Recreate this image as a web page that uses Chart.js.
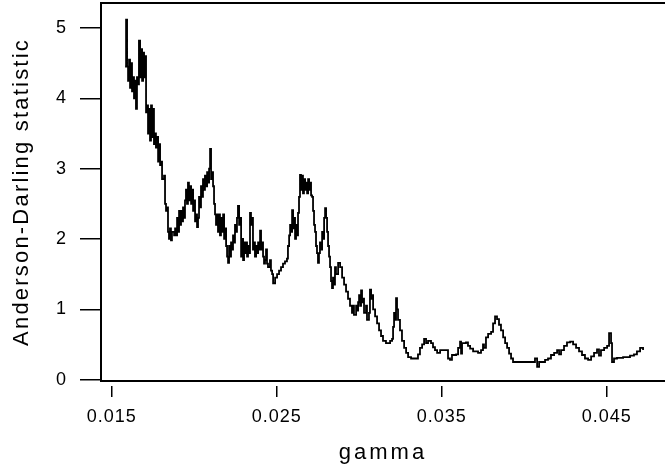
<!DOCTYPE html>
<html>
<head>
<meta charset="utf-8">
<script src="https://cdn.jsdelivr.net/npm/chart.js@4/dist/chart.umd.min.js"></script>
<style>
  html, body { margin: 0; padding: 0; background: #fff; }
  #wrap { width: 665px; height: 468px; }
</style>
</head>
<body>
<div id="wrap"><canvas id="myChart" width="665" height="468"></canvas></div>
<script>
// gamma values (x)
const gammas = [
  0.01581, 0.01587, 0.01593, 0.01599, 0.01605, 0.01611, 0.01617, 0.01623, 0.01629, 0.01635,
  0.01641, 0.01647, 0.01653, 0.01659, 0.01665, 0.01672, 0.01678, 0.01684, 0.01690, 0.01696,
  0.01702, 0.01708, 0.01714, 0.01720, 0.01726, 0.01732, 0.01738, 0.01744, 0.01750, 0.01756,
  0.01762, 0.01768, 0.01775, 0.01781, 0.01787, 0.01793, 0.01799, 0.01805, 0.01817, 0.01823,
  0.01829, 0.01835, 0.01841, 0.01847, 0.01853, 0.01859, 0.01865, 0.01878, 0.01884, 0.01890,
  0.01896, 0.01902, 0.01908, 0.01914, 0.01920, 0.01926, 0.01932, 0.01938, 0.01944, 0.01950,
  0.01956, 0.01962, 0.01968, 0.01975, 0.01981, 0.01987, 0.01993, 0.01999, 0.02005, 0.02011,
  0.02017, 0.02023, 0.02029, 0.02035, 0.02041, 0.02047, 0.02053, 0.02059, 0.02065, 0.02072,
  0.02078, 0.02084, 0.02090, 0.02096, 0.02102, 0.02108, 0.02114, 0.02120, 0.02126, 0.02132,
  0.02138, 0.02144, 0.02150, 0.02156, 0.02162, 0.02168, 0.02175, 0.02181, 0.02187, 0.02193,
  0.02199, 0.02205, 0.02211, 0.02217, 0.02223, 0.02229, 0.02235, 0.02241, 0.02247, 0.02253,
  0.02259, 0.02265, 0.02272, 0.02278, 0.02284, 0.02290, 0.02296, 0.02302, 0.02308, 0.02314,
  0.02320, 0.02326, 0.02332, 0.02338, 0.02344, 0.02350, 0.02356, 0.02362, 0.02368, 0.02375,
  0.02381, 0.02387, 0.02393, 0.02399, 0.02405, 0.02411, 0.02417, 0.02423, 0.02429, 0.02435,
  0.02441, 0.02447, 0.02459, 0.02465, 0.02472, 0.02478, 0.02490, 0.02502, 0.02514, 0.02526,
  0.02538, 0.02550, 0.02562, 0.02568, 0.02575, 0.02581, 0.02587, 0.02593, 0.02599, 0.02605,
  0.02611, 0.02617, 0.02623, 0.02629, 0.02635, 0.02641, 0.02647, 0.02653, 0.02659, 0.02665,
  0.02672, 0.02678, 0.02684, 0.02690, 0.02696, 0.02702, 0.02708, 0.02714, 0.02720, 0.02726,
  0.02732, 0.02738, 0.02744, 0.02750, 0.02756, 0.02762, 0.02768, 0.02775, 0.02781, 0.02787,
  0.02793, 0.02799, 0.02805, 0.02811, 0.02817, 0.02823, 0.02829, 0.02835, 0.02841, 0.02847,
  0.02853, 0.02859, 0.02872, 0.02884, 0.02896, 0.02908, 0.02920, 0.02932, 0.02944, 0.02956,
  0.02962, 0.02968, 0.02981, 0.02987, 0.02993, 0.02999, 0.03005, 0.03011, 0.03017, 0.03023,
  0.03029, 0.03041, 0.03047, 0.03059, 0.03065, 0.03072, 0.03078, 0.03084, 0.03096, 0.03108,
  0.03120, 0.03132, 0.03144, 0.03162, 0.03187, 0.03199, 0.03205, 0.03211, 0.03217, 0.03223,
  0.03229, 0.03235, 0.03247, 0.03259, 0.03272, 0.03284, 0.03296, 0.03314, 0.03344, 0.03356,
  0.03368, 0.03381, 0.03393, 0.03405, 0.03417, 0.03435, 0.03447, 0.03459, 0.03472, 0.03490,
  0.03526, 0.03538, 0.03550, 0.03562, 0.03587, 0.03599, 0.03611, 0.03617, 0.03623, 0.03647,
  0.03659, 0.03672, 0.03690, 0.03720, 0.03738, 0.03750, 0.03756, 0.03768, 0.03781, 0.03799,
  0.03811, 0.03823, 0.03835, 0.03847, 0.03859, 0.03872, 0.03884, 0.03896, 0.03908, 0.03920,
  0.03932, 0.04053, 0.04065, 0.04078, 0.04090, 0.04108, 0.04126, 0.04144, 0.04162, 0.04181,
  0.04199, 0.04211, 0.04223, 0.04241, 0.04259, 0.04278, 0.04296, 0.04314, 0.04332, 0.04350,
  0.04368, 0.04387, 0.04405, 0.04423, 0.04441, 0.04453, 0.04465, 0.04484, 0.04502, 0.04514,
  0.04526, 0.04532, 0.04544, 0.04562, 0.04599, 0.04641, 0.04665, 0.04683, 0.04702, 0.04720
];

// Anderson-Darling statistic at each gamma
const adStat = [
  4.45, 5.12, 4.45, 4.25, 4.55, 4.15, 4.50, 4.10, 4.30, 4.00,
  4.25, 3.85, 4.30, 4.20, 4.82, 4.30, 4.70, 4.25, 4.65, 4.30,
  4.60, 3.80, 3.90, 3.50, 3.85, 3.40, 3.90, 3.45, 3.85, 3.35,
  3.50, 3.30, 3.45, 3.10, 3.35, 3.05, 3.10, 2.85, 2.90, 2.50,
  2.40, 2.45, 2.10, 2.00, 2.15, 1.98, 2.10, 2.05, 2.15, 2.05,
  2.30, 2.10, 2.40, 2.20, 2.40, 2.25, 2.45, 2.30, 2.55, 2.70,
  2.50, 2.80, 2.55, 2.75, 2.50, 2.70, 2.40, 2.55, 2.25, 2.35,
  2.17, 2.30, 2.60, 2.45, 2.75, 2.60, 2.85, 2.70, 2.90, 2.75,
  2.95, 2.80, 3.00, 3.28, 2.85, 2.95, 2.75, 2.50, 2.35, 2.20,
  2.35, 2.10, 2.35, 2.05, 2.30, 2.10, 2.35, 2.00, 2.15, 1.90,
  1.75, 1.66, 1.90, 1.75, 1.95, 1.85, 2.05, 1.95, 2.20, 2.10,
  2.30, 2.47, 2.20, 2.30, 1.75, 2.00, 1.70, 1.95, 1.80, 1.95,
  1.75, 1.90, 1.80, 2.37, 2.20, 2.30, 1.85, 1.95, 1.75, 1.90,
  1.80, 1.95, 1.85, 2.12, 1.85, 1.95, 1.75, 1.65, 1.70, 1.85,
  1.65, 1.60, 1.70, 1.55, 1.50, 1.37, 1.45, 1.50, 1.55, 1.60,
  1.65, 1.68, 1.72, 1.90, 2.05, 2.20, 2.10, 2.41, 2.15, 2.30,
  2.00, 2.20, 2.05, 2.37, 2.60, 2.91, 2.70, 2.90, 2.65, 2.85,
  2.70, 2.80, 2.65, 2.85, 2.70, 2.80, 2.62, 2.60, 2.40, 2.20,
  2.10, 1.90, 1.80, 1.66, 1.80, 1.95, 1.85, 2.10, 2.00, 2.30,
  2.44, 2.30, 2.10, 1.90, 1.75, 1.60, 1.40, 1.30, 1.45, 1.35,
  1.60, 1.50, 1.66, 1.60, 1.45, 1.35, 1.25, 1.15, 1.05, 0.95,
  1.05, 0.92, 1.05, 0.98, 1.10, 1.20, 1.05, 1.27, 1.10, 1.15,
  0.95, 1.05, 0.85, 0.95, 1.28, 1.15, 1.20, 1.00, 0.90, 0.80,
  0.70, 0.62, 0.55, 0.52, 0.55, 0.58, 0.75, 0.95, 0.85, 1.16,
  1.00, 0.85, 0.70, 0.55, 0.45, 0.38, 0.32, 0.30, 0.30, 0.36,
  0.45, 0.50, 0.58, 0.52, 0.55, 0.52, 0.46, 0.42, 0.38, 0.42,
  0.42, 0.30, 0.28, 0.35, 0.36, 0.45, 0.54, 0.37, 0.52, 0.53,
  0.48, 0.44, 0.40, 0.38, 0.42, 0.50, 0.45, 0.60, 0.65, 0.68,
  0.80, 0.90, 0.86, 0.78, 0.70, 0.60, 0.52, 0.45, 0.37, 0.30,
  0.25, 0.25, 0.30, 0.18, 0.25, 0.25, 0.28, 0.30, 0.35, 0.38,
  0.42, 0.36, 0.42, 0.48, 0.53, 0.54, 0.50, 0.45, 0.40, 0.35,
  0.30, 0.28, 0.33, 0.38, 0.43, 0.34, 0.42, 0.45, 0.48, 0.66,
  0.52, 0.25, 0.30, 0.31, 0.32, 0.34, 0.36, 0.40, 0.45, 0.42
];

// axis ticks
const xTicks = [0.015, 0.025, 0.035, 0.045];
const yTicks = [0, 1, 2, 3, 4, 5];

const xTitle = 'gamma';
const yTitle = 'Anderson-Darling statistic';

let points = gammas.map((g, i) => ({ x: g, y: adStat[i] }));

const fontFamily = '"Liberation Sans", Arial, sans-serif';

// frame round the plot, y title, and letter spacing for the texts
const framePlugin = {
    id: 'frame',
    beforeDraw: (chart) => {
        // x title is drawn with the grid layer
        chart.ctx.letterSpacing = '3px';
    },
    beforeDatasetsDraw: (chart) => {
        const ctx = chart.ctx;
        const a = chart.chartArea;
        ctx.save();
        ctx.strokeStyle = '#000';
        ctx.lineWidth = 2;
        ctx.beginPath();
        ctx.moveTo(a.left, a.top);
        ctx.lineTo(a.right + 2, a.top);
        ctx.stroke();
        // y title
        ctx.translate(22, (a.top + a.bottom) / 2);
        ctx.rotate(-Math.PI / 2);
        ctx.font = '22px ' + fontFamily;
        ctx.letterSpacing = '2.2px';
        ctx.fillStyle = '#000';
        ctx.textAlign = 'center';
        ctx.textBaseline = 'middle';
        ctx.fillText(yTitle, 0, 0);
        ctx.restore();
    },
    afterDatasetsDraw: (chart) => {
        // tick labels come after the datasets (z: 1)
        chart.ctx.letterSpacing = '1px';
    },
    afterDraw: (chart) => {
        chart.ctx.letterSpacing = '0px';
    }
};

let plot = () => {
    const ctx = document.getElementById('myChart');

    const dataset = {
        datasets: [{
            data: points,
            borderColor: '#000',
            borderWidth: 1.8,
            pointRadius: 0,
            stepped: true,
            fill: false
        }]
    };

    const config = {
        type: 'line',
        data: dataset,
        plugins: [framePlugin],
        options: {
            responsive: false,
            animation: false,
            layout: { padding: { top: 3, right: 0, left: 0, bottom: 0 } },
            plugins: {
                legend: { display: false },
                tooltip: { enabled: false }
            },
            scales: {
                x: {
                    type: 'linear',
                    min: 0.01435,
                    max: 0.04853,
                    afterBuildTicks: (s) => { s.ticks = xTicks.map(v => ({ value: v })); },
                    afterFit: (s) => { s.height = 87; s.paddingLeft = 0; s.paddingRight = 0; },
                    grid: {
                        drawOnChartArea: false,
                        color: '#000',
                        lineWidth: 1.5,
                        tickLength: 16,
                        tickBorderDash: [12, 4],
                        tickBorderDashOffset: 12
                    },
                    border: { display: true, color: '#000', width: 2 },
                    ticks: {
                        z: 1,
                        color: '#000',
                        padding: 9,
                        maxRotation: 0,
                        font: { family: fontFamily, size: 18 },
                        callback: (v) => v.toFixed(3)
                    },
                    title: {
                        display: true,
                        text: xTitle,
                        color: '#000',
                        padding: { top: 0, bottom: 2 },
                        font: { family: fontFamily, size: 22 }
                    }
                },
                y: {
                    min: -0.02,
                    max: 5.356,
                    afterBuildTicks: (s) => { s.ticks = yTicks.map(v => ({ value: v })); },
                    afterFit: (s) => { s.width = 101; s.paddingTop = 0; s.paddingBottom = 0; },
                    grid: {
                        drawOnChartArea: false,
                        color: '#000',
                        lineWidth: 1.5,
                        tickLength: 21
                    },
                    border: { display: true, color: '#000', width: 2 },
                    ticks: {
                        z: 1,
                        color: '#000',
                        padding: 13,
                        font: { family: fontFamily, size: 18 }
                    }
                }
            }
        }
    };

    const chart = new Chart(ctx, config);
}

plot();
</script>
</body>
</html>
